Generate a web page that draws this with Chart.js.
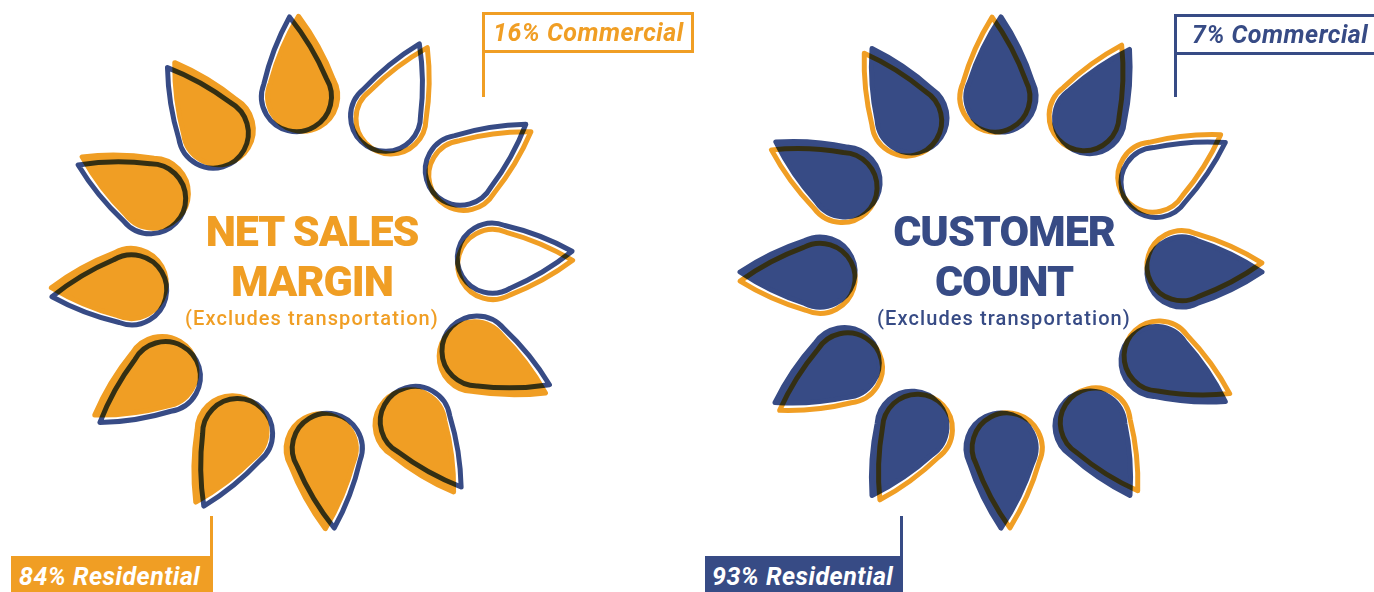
<!DOCTYPE html>
<html>
<head>
<meta charset="utf-8">
<script src="https://cdn.jsdelivr.net/npm/chart.js@4.4.1/dist/chart.umd.min.js"></script>
<style>
  html, body { margin: 0; padding: 0; background: #fff; }
  #page { position: relative; width: 1374px; height: 592px; overflow: hidden; font-family: Roboto, "Noto Sans", sans-serif; }
  .sun { position: absolute; }
  .title { position: absolute; width: 400px; text-align: center; font-weight: 900; font-size: 43px; line-height: 50px; letter-spacing: -1px; white-space: nowrap; }
  .sub { position: absolute; width: 400px; text-align: center; font-weight: 500; font-size: 20px; line-height: 24px; letter-spacing: 1.1px; white-space: nowrap; }
  .tag { position: absolute; box-sizing: border-box; font-weight: 700; font-style: italic; font-size: 25px; letter-spacing: 0.5px; white-space: nowrap; }
  .stem { position: absolute; width: 3px; }
</style>
</head>
<body>
<div id="page">
  <canvas id="marginSun" class="sun" width="624" height="548" style="left:0px; top:0px;"></canvas>
  <canvas id="customerSun" class="sun" width="624" height="548" style="left:689px; top:-2px;"></canvas>

  <div class="title" style="left:112px; top:206px; color:#f09e24;">NET SALES<br>MARGIN</div>
  <div class="sub" style="left:112px; top:306px; color:#f09e24;">(Excludes transportation)</div>

  <div class="title" style="left:804px; top:206px; color:#374b85;">CUSTOMER<br>COUNT</div>
  <div class="sub" style="left:804px; top:306px; color:#374b85;">(Excludes transportation)</div>

  <div id="marginCommercial" class="tag" style="left:482px; top:12px; width:212px; height:41px; border:3px solid #f09e24; color:#f09e24; padding-left:8px; line-height:35px;"></div>
  <div class="stem" style="left:482px; top:52px; height:45px; background:#f09e24;"></div>

  <div id="marginResidential" class="tag" style="left:11px; top:556px; width:202px; height:40px; background:#f09e24; color:#fff; padding-left:8px; line-height:42px;"></div>
  <div class="stem" style="left:210px; top:516px; height:41px; background:#f09e24;"></div>

  <div id="customerCommercial" class="tag" style="left:1174px; top:14px; width:240px; height:41px; border:3px solid #374b85; color:#374b85; padding-left:15px; line-height:35px;"></div>
  <div class="stem" style="left:1174px; top:54px; height:43px; background:#374b85;"></div>

  <div id="customerResidential" class="tag" style="left:705px; top:556px; width:198px; height:40px; background:#374b85; color:#fff; padding-left:7px; line-height:42px;"></div>
  <div class="stem" style="left:900px; top:516px; height:41px; background:#374b85;"></div>
</div>

<script>
// twelve drops per sun, clockwise from the top
const dropSlots = ["12", "1", "2", "3", "4", "5", "6", "7", "8", "9", "10", "11"];

// distance of each drop from the sun centre (px of radial scale)
const marginReach = [178, 174, 181, 181, 182, 180, 175, 176, 179, 181, 178, 172];
const customerReach = [175, 177, 179, 181, 179, 178, 176, 178, 181, 181, 180, 178];

// 1 = filled drop (residential share), 0 = outline only (commercial share)
const marginFilled = [1, 0, 0, 0, 1, 1, 1, 1, 1, 1, 1, 1];
const customerFilled = [1, 1, 0, 1, 1, 1, 1, 1, 1, 1, 1, 1];

const shareNames = ["Residential", "Commercial"];
const marginShares = [84, 16];
const customerShares = [93, 7];

const ORANGE = "#f09e24";
const NAVY = "#374b85";

function dropPath(ctx, p) {
  const r = 35;
  const tip = 80;
  const bulge = 2.5;
  const a = Math.acos(r / tip);
  // right tangent point, and a control point pushed a little outward
  const tx = r * Math.sin(a);
  const ty = -r * Math.cos(a);
  const dx = tx;
  const dy = ty + tip;
  const len = Math.hypot(dx, dy);
  const cx = tx / 2 + (dy / len) * bulge * 2;
  const cy = (ty - tip) / 2 - (dx / len) * bulge * 2;

  ctx.save();
  ctx.translate(p.x, p.y);
  ctx.rotate(p.angle + Math.PI / 2);
  ctx.beginPath();
  ctx.moveTo(0, -tip);
  ctx.quadraticCurveTo(cx, cy, tx, ty);
  ctx.arc(0, 0, r, -Math.PI / 2 + a, Math.PI * 1.5 - a);
  ctx.quadraticCurveTo(-cx, cy, 0, -tip);
  ctx.closePath();
  ctx.restore();
}

const dropPlugin = {
  id: "drops",
  afterDatasetsDraw(chart, args, opts) {
    const ctx = chart.ctx;
    const scale = chart.scales.r;
    const reach = chart.data.datasets[0].data;
    const place = (i, shift) =>
      scale.getPointPosition(i, scale.getDistanceFromCenterForValue(reach[i]), shift);

    ctx.save();
    ctx.lineWidth = 5;
    ctx.lineJoin = "round";

    reach.forEach((value, i) => {
      dropPath(ctx, place(i, 0));
      if (opts.filled[i]) {
        ctx.fillStyle = opts.fill;
        ctx.fill();
      }
      ctx.strokeStyle = opts.fill;
      ctx.stroke();
    });

    // second print pass, slightly out of register
    ctx.globalCompositeOperation = "multiply";
    reach.forEach((value, i) => {
      dropPath(ctx, place(i, -opts.drift));
      ctx.strokeStyle = opts.line;
      ctx.stroke();
    });

    ctx.restore();
  }
};

function sunChart(id, reach, filled, fill, line, startAngle) {
  return new Chart(document.getElementById(id), {
    type: "radar",
    data: {
      labels: dropSlots,
      datasets: [{
        data: reach,
        borderWidth: 0,
        pointRadius: 0,
        backgroundColor: "transparent",
        fill: false
      }]
    },
    options: {
      responsive: false,
      animation: false,
      events: [],
      layout: { padding: 0 },
      plugins: {
        legend: { display: false },
        tooltip: { enabled: false },
        drops: { filled, fill, line, drift: 2 * Math.PI / 180 }
      },
      scales: {
        r: {
          min: 0,
          max: 274,
          startAngle,
          grid: { display: false },
          angleLines: { display: false },
          ticks: { display: false },
          pointLabels: { display: false }
        }
      }
    },
    plugins: [dropPlugin]
  });
}

sunChart("marginSun", marginReach, marginFilled, ORANGE, NAVY, -3);
sunChart("customerSun", customerReach, customerFilled, NAVY, ORANGE, 0);

document.getElementById("marginResidential").textContent = `${marginShares[0]}% ${shareNames[0]}`;
document.getElementById("marginCommercial").textContent = `${marginShares[1]}% ${shareNames[1]}`;
document.getElementById("customerResidential").textContent = `${customerShares[0]}% ${shareNames[0]}`;
document.getElementById("customerCommercial").textContent = `${customerShares[1]}% ${shareNames[1]}`;
</script>
</body>
</html>
